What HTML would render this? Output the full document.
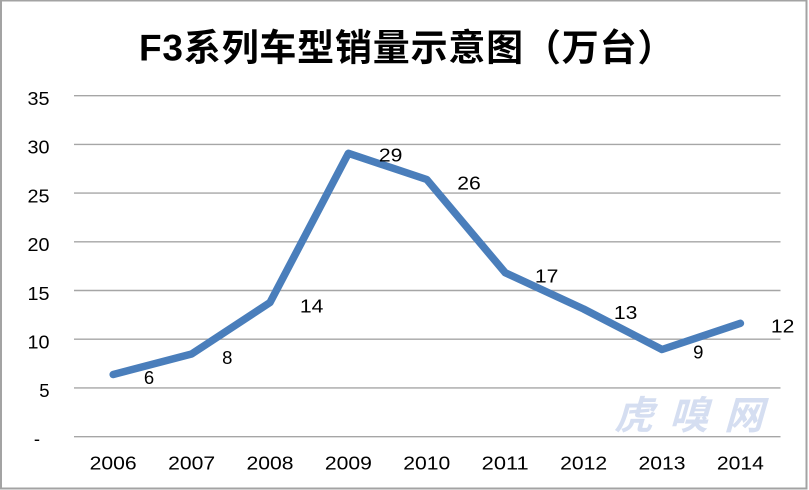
<!DOCTYPE html>
<html>
<head>
<meta charset="utf-8">
<style>
  html, body { margin: 0; padding: 0; background: #ffffff; }
  body { width: 809px; height: 490px; overflow: hidden; position: relative; }
  svg { position: absolute; left: 0; top: 0; }
</style>
</head>
<body>
<svg width="809" height="490" viewBox="0 0 809 490" xmlns="http://www.w3.org/2000/svg">
  <rect x="0" y="0" width="809" height="490" fill="#ffffff"/>
  <!-- outer border -->
  <rect x="1" y="0.5" width="805.5" height="488" fill="none" stroke="#a3a3a3" stroke-width="2"/>

  <!-- title -->
  <text x="139" y="60.5" font-family="'Liberation Sans','Noto Sans CJK SC',sans-serif" font-weight="bold" font-size="37" letter-spacing="0.8" fill="#000">F3系列车型销量示意图（万台）</text>

  <!-- gridlines -->
  <g stroke="#a6a6a6" stroke-width="1.4">
    <line x1="74" y1="95.7" x2="780.5" y2="95.7"/>
    <line x1="74" y1="144.4" x2="780.5" y2="144.4"/>
    <line x1="74" y1="193.1" x2="780.5" y2="193.1"/>
    <line x1="74" y1="241.8" x2="780.5" y2="241.8"/>
    <line x1="74" y1="290.5" x2="780.5" y2="290.5"/>
    <line x1="74" y1="339.2" x2="780.5" y2="339.2"/>
    <line x1="74" y1="387.9" x2="780.5" y2="387.9"/>
    <line x1="74" y1="436.7" x2="780.5" y2="436.7"/>
  </g>

  <!-- watermark -->
  <text x="614" y="429" font-family="'Noto Sans CJK SC',sans-serif" font-weight="bold" font-size="39" fill="#d5def1" letter-spacing="16" transform="translate(614 429) skewX(-16) translate(-614 -429)">虎嗅网</text>

  <!-- y axis labels -->
  <g font-family="'Liberation Sans',sans-serif" font-size="18.5" fill="#000" text-anchor="end">
    <text x="49.5" y="105" textLength="22" lengthAdjust="spacingAndGlyphs">35</text>
    <text x="49.5" y="153.7" textLength="22" lengthAdjust="spacingAndGlyphs">30</text>
    <text x="49.5" y="202.4" textLength="22" lengthAdjust="spacingAndGlyphs">25</text>
    <text x="49.5" y="251.1" textLength="22" lengthAdjust="spacingAndGlyphs">20</text>
    <text x="49.5" y="299.8" textLength="22" lengthAdjust="spacingAndGlyphs">15</text>
    <text x="49.5" y="348.5" textLength="22" lengthAdjust="spacingAndGlyphs">10</text>
    <text x="49.5" y="397.2">5</text>
    <text x="40" y="445">-</text>
  </g>

  <!-- x axis labels -->
  <g font-family="'Liberation Sans',sans-serif" font-size="18.5" fill="#000" text-anchor="middle">
    <text x="113.2" y="469.5" textLength="47" lengthAdjust="spacingAndGlyphs">2006</text>
    <text x="191.6" y="469.5" textLength="47" lengthAdjust="spacingAndGlyphs">2007</text>
    <text x="270" y="469.5" textLength="47" lengthAdjust="spacingAndGlyphs">2008</text>
    <text x="348.4" y="469.5" textLength="47" lengthAdjust="spacingAndGlyphs">2009</text>
    <text x="426.8" y="469.5" textLength="47" lengthAdjust="spacingAndGlyphs">2010</text>
    <text x="505.2" y="469.5" textLength="47" lengthAdjust="spacingAndGlyphs">2011</text>
    <text x="583.6" y="469.5" textLength="47" lengthAdjust="spacingAndGlyphs">2012</text>
    <text x="662" y="469.5" textLength="47" lengthAdjust="spacingAndGlyphs">2013</text>
    <text x="740.4" y="469.5" textLength="47" lengthAdjust="spacingAndGlyphs">2014</text>
  </g>

  <!-- series line -->
  <polyline fill="none" stroke="#4a7ebb" stroke-width="7.5" stroke-linecap="round" stroke-linejoin="round"
    points="113.2,374.5 191.6,354 270,302.5 348.4,153.3 426.8,179.5 505.2,272.7 583.6,309 662,349.5 740.4,323.3"/>

  <!-- data labels -->
  <g font-family="'Liberation Sans',sans-serif" font-size="18.5" fill="#000" text-anchor="middle">
    <text x="149" y="384">6</text>
    <text x="227.3" y="364">8</text>
    <text x="311.7" y="312.6" textLength="23.5" lengthAdjust="spacingAndGlyphs">14</text>
    <text x="390.7" y="161.6" textLength="23.5" lengthAdjust="spacingAndGlyphs">29</text>
    <text x="469" y="189.3" textLength="23.5" lengthAdjust="spacingAndGlyphs">26</text>
    <text x="546.7" y="282.6" textLength="23.5" lengthAdjust="spacingAndGlyphs">17</text>
    <text x="625.7" y="318.9" textLength="23.5" lengthAdjust="spacingAndGlyphs">13</text>
    <text x="698.3" y="358.3">9</text>
    <text x="782.7" y="332.6" textLength="23.5" lengthAdjust="spacingAndGlyphs">12</text>
  </g>
</svg>
</body>
</html>
